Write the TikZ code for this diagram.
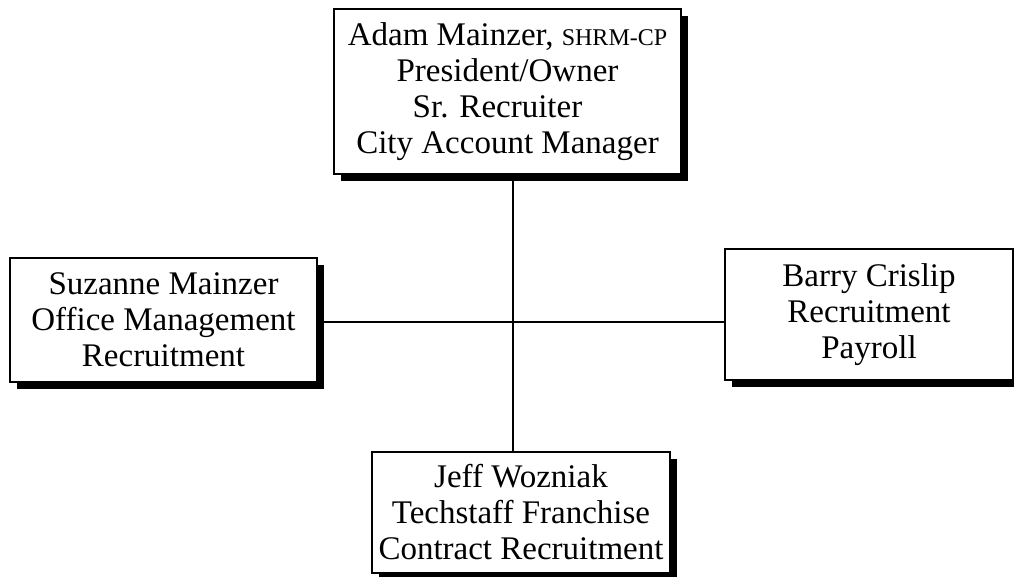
\documentclass[tikz,border=0pt]{standalone}
\usepackage{fontspec}
\setmainfont{Liberation Serif}
\usetikzlibrary{shadows}

\tikzset{
  person/.style={draw, line width=2pt, fill=white, align=center, inner sep=0pt,
    font=\fontsize{33}{36}\selectfont,
    drop shadow={shadow xshift=7pt, shadow yshift=-7pt, fill=black, opacity=1}},
  link/.style={line width=2pt}
}

\begin{document}
\begin{tikzpicture}[x=1pt, y=-1pt]

  \useasboundingbox (0,0) rectangle (1014,576);
  \clip (0,0) rectangle (1014,576);

  \coordinate (hub) at (513,322);

  % the four boxes
  \node[person, minimum width=347pt, minimum height=165pt] (adam) at (507.5,91.5)
    {Adam Mainzer, {\fontsize{24}{36}\selectfont SHRM-CP}\\President/Owner\\Sr. Recruiter\rule{20pt}{0pt}\\City Account Manager};
  \node[person, minimum width=307pt, minimum height=124pt] (suzanne) at (163.5,320)
    {Suzanne Mainzer\\Office Management\\Recruitment};
  \node[person, minimum width=288pt, minimum height=131pt] (barry) at (869,314.5)
    {Barry Crislip\\Recruitment\\Payroll};
  \node[person, minimum width=298pt, minimum height=121pt] (jeff) at (521,512.5)
    {Jeff Wozniak\\Techstaff Franchise\\Contract Recruitment};

  % connectors
  \draw[link] (adam.south -| hub) -- (jeff.north -| hub);
  \draw[link] (suzanne.east |- hub) -- (barry.west |- hub);

\end{tikzpicture}
\end{document}
